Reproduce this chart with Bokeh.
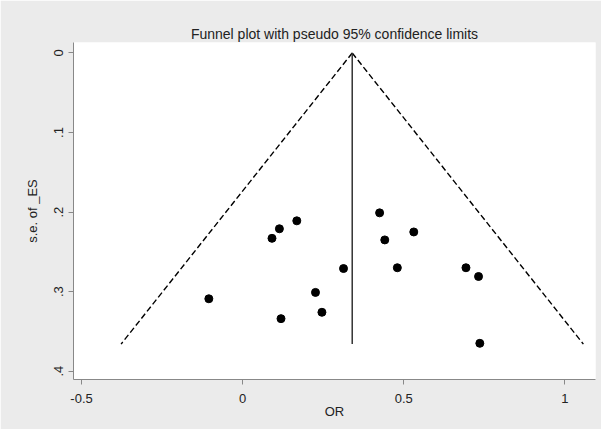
from bokeh.plotting import figure
from bokeh.models import Range1d, FixedTicker, CustomJSTickFormatter, ColumnDataSource
from bokeh.embed import file_html
from bokeh.resources import INLINE

# Study estimates (OR scale as labelled) and their standard errors
study_or = [-0.105, 0.091, 0.114, 0.168, 0.313, 0.226, 0.246, 0.119,
            0.425, 0.441, 0.531, 0.480, 0.693, 0.732, 0.736]
study_se = [0.309, 0.233, 0.221, 0.211, 0.271, 0.301, 0.326, 0.334,
            0.201, 0.235, 0.225, 0.270, 0.270, 0.281, 0.365]

pooled_or = 0.340
se_max = 0.366
z95 = 1.96

x_ticks = [-0.5, 0, 0.5, 1]
y_ticks = [0, 0.1, 0.2, 0.3, 0.4]

FONT = "Liberation Sans"
GRAY_BG = "#ebebeb"

p = figure(width=601, height=429, output_backend="svg", toolbar_location=None,
           x_range=Range1d(-0.525, 1.095), y_range=Range1d(0.4105, -0.0132),
           min_border_left=73, min_border_right=6, min_border_top=42, min_border_bottom=50,
           background_fill_color="white", border_fill_color=GRAY_BG,
           title="Funnel plot with pseudo 95% confidence limits")
p.outline_line_color = None
p.grid.visible = False

p.title.align = "center"
p.title.text_font = FONT
p.title.text_font_size = "14px"
p.title.text_font_style = "normal"
p.title.text_color = "#222222"
p.title.standoff = 2

# funnel limits
left_x = [pooled_or, pooled_or - z95 * se_max]
right_x = [pooled_or, pooled_or + z95 * se_max]
p.line(left_x, [0, se_max], line_color="black", line_width=1.4, line_dash="6 3")
p.line(right_x, [0, se_max], line_color="black", line_width=1.4, line_dash="6 3")
p.line([pooled_or, pooled_or], [0, se_max], line_color="#333333", line_width=1.5)

src = ColumnDataSource(dict(x=study_or, y=study_se))
p.scatter("x", "y", source=src, size=8, fill_color="black", line_color="black")

for ax in (p.xaxis, p.yaxis):
    ax.axis_line_color = "#888888"
    ax.major_tick_line_color = "#888888"
    ax.minor_tick_line_color = None
    ax.major_tick_out = 5
    ax.major_tick_in = 0
    ax.major_label_text_font = FONT
    ax.major_label_text_font_size = "13px"
    ax.major_label_text_color = "#222222"
    ax.axis_label_text_font = FONT
    ax.axis_label_text_font_size = "13px"
    ax.axis_label_text_font_style = "normal"
    ax.axis_label_text_color = "#222222"

p.xaxis.ticker = FixedTicker(ticks=x_ticks)
p.yaxis.ticker = FixedTicker(ticks=y_ticks)
p.xaxis.formatter = CustomJSTickFormatter(code="return tick == 0 ? '0' : (Number.isInteger(tick) ? tick.toFixed(0) : tick.toFixed(1));")
p.yaxis.formatter = CustomJSTickFormatter(code="return tick == 0 ? '0' : tick.toFixed(1).replace('0.', '.');")
p.yaxis.major_label_orientation = "vertical"
p.xaxis.axis_label = "OR"
p.yaxis.axis_label = "s.e. of _ES"
p.xaxis.major_label_standoff = 9
p.xaxis.axis_label_standoff = -2
p.yaxis.major_label_standoff = 5
p.yaxis.axis_label_standoff = 12

open("out.html", "w").write(file_html(p, INLINE))
